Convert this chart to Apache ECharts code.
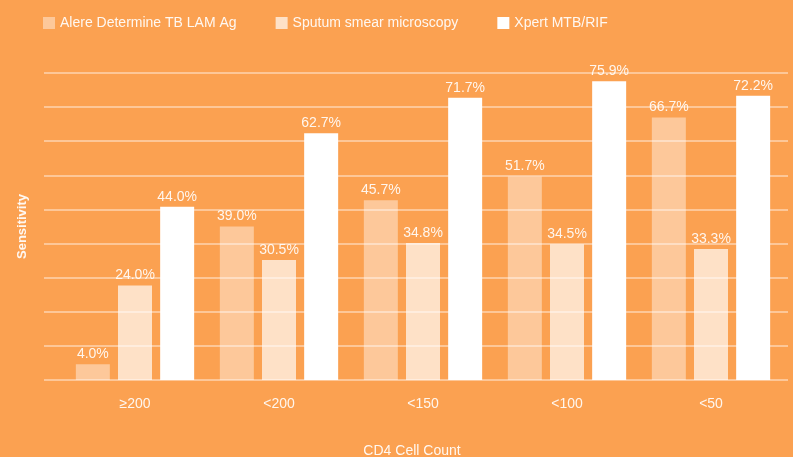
<!DOCTYPE html>
<html lang="en">
  <head>
    <meta charset="UTF-8" />
    <title>Sensitivity by CD4 Cell Count</title>
    <script src="https://cdn.jsdelivr.net/npm/echarts@6/dist/echarts.min.js"></script>
    <style>
      html, body { margin: 0; padding: 0; background: #fba151; }
    </style>
  </head>
  <body>
    <div id="chart" style="width: 793px; height: 457px"></div>
    <script>
      // categories and series values (percent)
      var categories = ["≥200", "<200", "<150", "<100", "<50"];
      var seriesNames = ["Alere Determine TB LAM Ag", "Sputum smear microscopy", "Xpert MTB/RIF"];
      var lamValues = [4.0, 39.0, 45.7, 51.7, 66.7];
      var smearValues = [24.0, 30.5, 34.8, 34.5, 33.3];
      var xpertValues = [44.0, 62.7, 71.7, 75.9, 72.2];

      var colors = ["rgba(255,255,255,0.42)", "rgba(255,255,255,0.68)", "#ffffff"];
      var yMax = 78;
      var yStep = yMax / 9;
      var font = "Liberation Sans, Arial, Helvetica, sans-serif";

      var myChart = echarts.init(document.getElementById("chart"));

      function makeSeries(name, data, i) {
        return {
          name: name,
          type: "bar",
          xAxisIndex: 1,
          yAxisIndex: 1,
          data: data,
          barWidth: 34,
          barGap: "24%",
          itemStyle: { color: colors[i] },
          label: {
            show: true,
            position: "top",
            distance: 3,
            color: "rgba(255,255,255,0.9)",
            fontSize: 14,
            fontFamily: font,
            formatter: function (p) {
              return p.value.toFixed(1) + "%";
            },
          },
        };
      }

      var option = {
        backgroundColor: "#fba151",
        color: colors,
        legend: {
          left: 38,
          top: 11,
          itemWidth: 12,
          itemHeight: 12,
          itemGap: 39,
          icon: "rect",
          data: seriesNames,
          textStyle: { color: "rgba(255,255,255,0.92)", fontSize: 14, fontFamily: font },
        },
        grid: [
          // background gridlines, wider than the bar area
          { left: 44, right: 5, top: 73, bottom: 77, outerBoundsMode: "none" },
          { left: 63, right: 10, top: 73, bottom: 77, outerBoundsMode: "none" },
        ],
        xAxis: [
          { type: "value", gridIndex: 0, show: false },
          {
            type: "category",
            gridIndex: 1,
            data: categories,
            axisLine: { show: false },
            axisTick: { show: false },
            axisLabel: { color: "rgba(255,255,255,0.9)", fontSize: 14, fontFamily: font, margin: 17 },
            name: "CD4 Cell Count",
            nameLocation: "middle",
            nameGap: 64,
            nameTextStyle: { color: "rgba(255,255,255,0.92)", fontSize: 14, fontFamily: font, padding: [0, 0, 0, -22] },
          },
        ],
        yAxis: [
          {
            type: "value",
            gridIndex: 0,
            min: 0,
            max: yMax,
            interval: yStep,
            axisLabel: { show: false },
            axisLine: { show: false },
            axisTick: { show: false },
            splitLine: { lineStyle: { color: "rgba(255,255,255,0.55)", width: 1.5 } },
            name: "Sensitivity",
            nameLocation: "middle",
            nameGap: 15,
            nameTextStyle: { color: "rgba(255,255,255,0.92)", fontSize: 13, fontFamily: font, fontWeight: "bold" },
          },
          {
            type: "value",
            gridIndex: 1,
            min: 0,
            max: yMax,
            interval: yStep,
            show: false,
          },
        ],
        series: [
          makeSeries(seriesNames[0], lamValues, 0),
          makeSeries(seriesNames[1], smearValues, 1),
          makeSeries(seriesNames[2], xpertValues, 2),
        ],
      };

      myChart.setOption(option);
    </script>
  </body>
</html>
